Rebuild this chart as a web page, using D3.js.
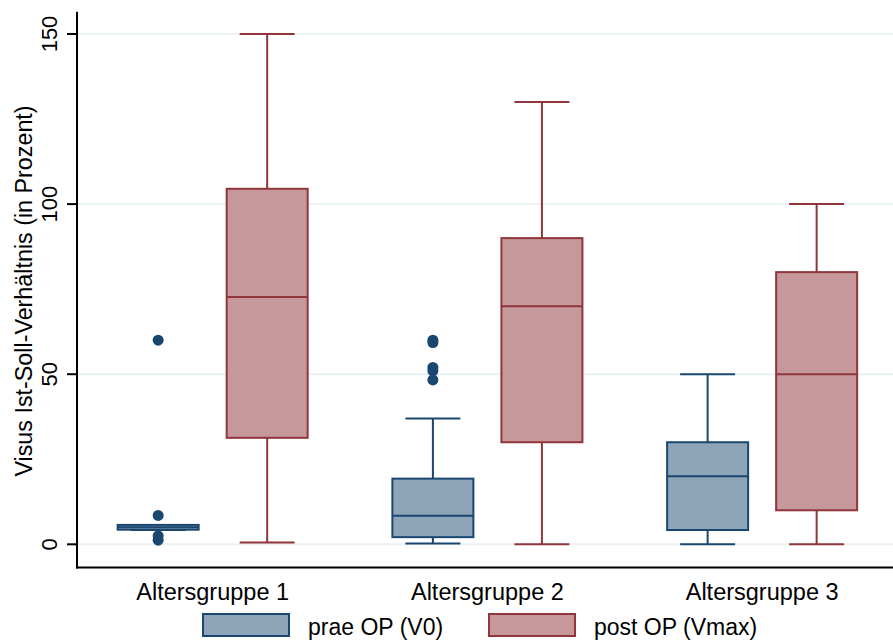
<!DOCTYPE html>
<html>
<head>
<meta charset="utf-8">
<script src="https://cdn.jsdelivr.net/npm/d3@7"></script>
<style>
  html, body { margin: 0; padding: 0; background: #fff; }
  svg { display: block; font-family: "Liberation Sans", Arial, sans-serif; }
</style>
</head>
<body>
<svg id="chart" width="893" height="641"></svg>
<script>
// ---------- data ----------
const groups = ["Altersgruppe 1", "Altersgruppe 2", "Altersgruppe 3"];
const series = ["prae OP (V0)", "post OP (Vmax)"];
// five-number summaries per group: [lowerWhisker, q1, median, q3, upperWhisker]
const praeStats = [
  [4.2, 4.3, 5.0, 5.7, 5.7],
  [0.2, 2.1, 8.4, 19.3, 37],
  [0, 4.2, 20, 30, 50]
];
const postStats = [
  [0.5, 31.3, 72.7, 104.5, 150],
  [0, 30, 70, 90, 130],
  [0, 10, 50, 80, 100]
];
const praeOutliers = [
  [60, 8.5, 2.5, 1.2],
  [60, 59.3, 52, 51, 48.3],
  []
];
const postOutliers = [[], [], []];
const yTicks = [0, 50, 100, 150];
const yTitle = "Visus Ist-Soll-Verhältnis (in Prozent)";

// ---------- styles ----------
const fills = ["#8ea5b9", "#c7989b"];
const strokes = ["#1a476f", "#90353b"];

const svg = d3.select("#chart");
const W = 893, H = 641;
const axisX = 77, axisBottom = 567.5, axisTop = 11.7;

const y = d3.scaleLinear().domain([0, 150]).range([544.3, 34]);
const x0 = d3.scaleBand().domain(groups).range([75.3, 899.5]).padding(0);
const x1 = d3.scalePoint().domain(series).range([0, x0.bandwidth()]).padding(0.76);
const boxW = 81, capW = 55;

// gridlines
svg.append("g").selectAll("line").data(yTicks).join("line")
  .attr("x1", axisX).attr("x2", W)
  .attr("y1", d => y(d)).attr("y2", d => y(d))
  .attr("stroke", "#eaf2f3").attr("stroke-width", 2);

// boxes
const allStats = [praeStats, postStats];
const allOut = [praeOutliers, postOutliers];
series.forEach((s, si) => {
  groups.forEach((g, gi) => {
    const [lo, q1, med, q3, hi] = allStats[si][gi];
    const cx = x0(g) + x1(s);
    const gg = svg.append("g");
    gg.append("line").attr("x1", cx).attr("x2", cx).attr("y1", y(q3)).attr("y2", y(hi))
      .attr("stroke", strokes[si]).attr("stroke-width", 2);
    gg.append("line").attr("x1", cx).attr("x2", cx).attr("y1", y(q1)).attr("y2", y(lo))
      .attr("stroke", strokes[si]).attr("stroke-width", 2);
    gg.append("line").attr("x1", cx - capW / 2).attr("x2", cx + capW / 2).attr("y1", y(hi)).attr("y2", y(hi))
      .attr("stroke", strokes[si]).attr("stroke-width", 2);
    gg.append("line").attr("x1", cx - capW / 2).attr("x2", cx + capW / 2).attr("y1", y(lo)).attr("y2", y(lo))
      .attr("stroke", strokes[si]).attr("stroke-width", 2);
    gg.append("rect").attr("x", cx - boxW / 2).attr("width", boxW)
      .attr("y", y(q3)).attr("height", y(q1) - y(q3))
      .attr("fill", fills[si]).attr("stroke", strokes[si]).attr("stroke-width", 2);
    gg.append("line").attr("x1", cx - boxW / 2).attr("x2", cx + boxW / 2).attr("y1", y(med)).attr("y2", y(med))
      .attr("stroke", strokes[si]).attr("stroke-width", 2);
    gg.selectAll("circle").data(allOut[si][gi]).join("circle")
      .attr("cx", cx).attr("cy", d => y(d)).attr("r", 5.5)
      .attr("fill", strokes[si]);
  });
});

// axes lines
svg.append("line").attr("x1", axisX).attr("x2", axisX).attr("y1", axisTop).attr("y2", axisBottom + 1)
  .attr("stroke", "#000").attr("stroke-width", 2);
svg.append("line").attr("x1", axisX - 1).attr("x2", W).attr("y1", axisBottom).attr("y2", axisBottom)
  .attr("stroke", "#000").attr("stroke-width", 2);

// y ticks
svg.append("g").selectAll("line").data(yTicks).join("line")
  .attr("x1", axisX - 10).attr("x2", axisX).attr("y1", d => y(d)).attr("y2", d => y(d))
  .attr("stroke", "#000").attr("stroke-width", 2);
svg.append("g").selectAll("text").data(yTicks).join("text")
  .attr("transform", d => `translate(57,${y(d)}) rotate(-90)`)
  .attr("text-anchor", "middle").attr("font-size", 22).attr("fill", "#000")
  .text(d => d);

// y title
svg.append("text").attr("transform", "translate(32,291) rotate(-90)")
  .attr("text-anchor", "middle").attr("font-size", 23.3).attr("fill", "#000")
  .text(yTitle);

// x labels
svg.append("g").selectAll("text").data(groups).join("text")
  .attr("x", d => x0(d) + x0.bandwidth() / 2).attr("y", 600)
  .attr("text-anchor", "middle").attr("font-size", 23.5).attr("fill", "#000")
  .text(d => d);

// legend
const legX = [203, 489];
series.forEach((s, si) => {
  svg.append("rect").attr("x", legX[si]).attr("y", 614).attr("width", 86).attr("height", 22)
    .attr("fill", fills[si]).attr("stroke", strokes[si]).attr("stroke-width", 2);
  svg.append("text").attr("x", legX[si] + 105).attr("y", 635)
    .attr("font-size", 23).attr("fill", "#000").text(s);
});
</script>
</body>
</html>
